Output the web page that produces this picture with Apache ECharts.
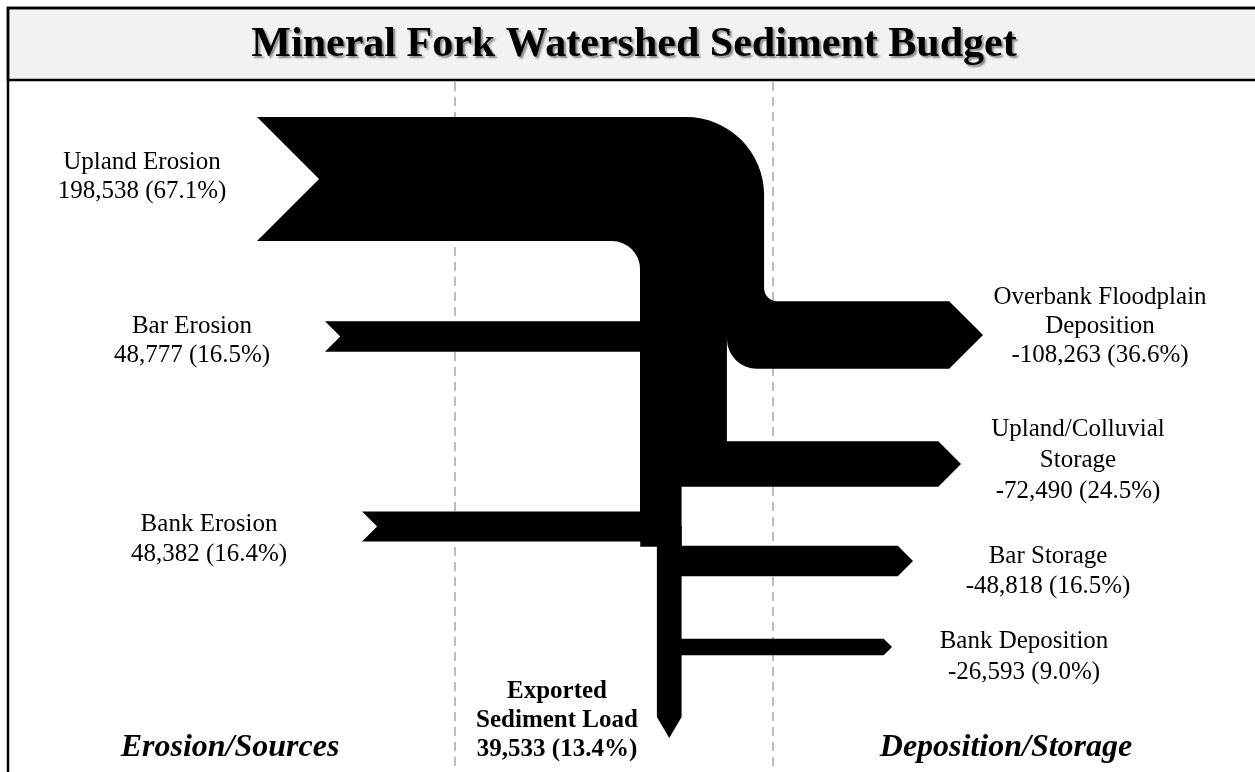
<!DOCTYPE html>
<html>
<head>
<meta charset="utf-8">
<script src="https://cdn.jsdelivr.net/npm/echarts@6/dist/echarts.min.js"></script>
<style>
html,body{margin:0;padding:0;background:#fff;}
#chart{width:1255px;height:772px;}
</style>
</head>
<body>
<div id="chart"></div>
<script>
// ---------------- data ----------------
const titleText = 'Mineral Fork Watershed Sediment Budget';
const sourceNames = ['Upland Erosion', 'Bar Erosion', 'Bank Erosion'];
const sourceValues = [198538, 48777, 48382];
const sourcePercents = [67.1, 16.5, 16.4];
const sinkNames = ['Overbank Floodplain\nDeposition', 'Upland/Colluvial\nStorage', 'Bar Storage', 'Bank Deposition'];
const sinkValues = [108263, 72490, 48818, 26593];
const sinkPercents = [36.6, 24.5, 16.5, 9.0];
const exportName = 'Exported\nSediment Load';
const exportValue = 39533;
const exportPercent = 13.4;
const sideLabels = ['Erosion/Sources', 'Deposition/Storage'];

// ---------------- layout (pixels) ----------------
const W = 1255, H = 772;
const TPP = 1600; // tonnes per pixel on the hidden axes
const FONT = "'Liberation Serif','Times New Roman',serif";
const LAY = {
  trunkX: 640,
  uplandTop: 117,
  outerR: 78, innerR: 28, topFillet: 13, bottomFillet: 30,
  tailX: [257, 325, 362],
  srcCY: [null, 336.5, 526.5],
  sinkCY: [335, 464, 561, 647],
  sinkTipX: [983, 961, 913, 892],
  exportTipY: 738,
  srcLabel: [[142, 162, 29], [192, 326, 29], [209, 524, 30]],
  sinkLabel: [[1100, 297, 29], [1078, 429, 31], [1048, 556, 30], [1024, 641, 31]],
  exportLabel: [557, 692, 29]
};

const fmt = v => v.toLocaleString('en-US');

function textEl(x, y, lh, text, font) {
  return {
    type: 'text', x: x, y: y - lh / 2, silent: true,
    style: { text: text, font: font, fill: '#000', align: 'center', verticalAlign: 'top', lineHeight: lh }
  };
}

// concave fillet: corner point plus an arc around (cx, cy) from angle a0 to a1
function filletPoints(corner, cx, cy, r, a0, a1) {
  const pts = [corner];
  const n = 12;
  for (let k = 0; k <= n; k++) {
    const a = (a0 + (a1 - a0) * k / n) * Math.PI / 180;
    pts.push([cx + r * Math.cos(a), cy + r * Math.sin(a)]);
  }
  return pts;
}

function renderItem(params, api) {
  const kind = api.value(0);
  const idx = api.value(1);
  const value = api.value(2);
  const th = v => api.size([0, v])[1];
  const t = th(value);
  const X0 = LAY.trunkX;
  const style = { fill: '#000' };
  const children = [];

  // trunk widths from the running balance of the flows
  const flowA = sourceValues[0];
  const flowB = sourceValues[0] + sourceValues[1] - sinkValues[0];
  const flowC = flowB - sinkValues[1];
  const flowD = flowC + sourceValues[2] - sinkValues[2];
  const flowE = flowD - sinkValues[3];
  const tA = th(flowA), tB = th(flowB), tC = th(flowC), tD = th(flowD), tE = th(flowE);
  const R = X0 + tC;

  if (kind === 0) {
    const font = '25px ' + FONT;
    if (idx === 0) {
      const top = LAY.uplandTop, bot = top + t, xl = LAY.tailX[0];
      const xr = X0 + tA, ro = LAY.outerR, ri = LAY.innerR;
      const yEnd = LAY.sinkCY[0] + 2;
      const d = 'M' + xl + ',' + top + ' L' + (xr - ro) + ',' + top +
        ' A' + ro + ',' + ro + ' 0 0 1 ' + xr + ',' + (top + ro) +
        ' L' + xr + ',' + yEnd + ' L' + X0 + ',' + yEnd +
        ' L' + X0 + ',' + (bot + ri) +
        ' A' + ri + ',' + ri + ' 0 0 0 ' + (X0 - ri) + ',' + bot +
        ' L' + xl + ',' + bot + ' L' + (xl + t / 2) + ',' + (top + t / 2) + ' Z';
      children.push({ type: 'path', shape: { pathData: d }, style: style });
    } else {
      const cy = LAY.srcCY[idx], top = cy - t / 2, bot = cy + t / 2, xl = LAY.tailX[idx];
      const xe = (idx === 1 ? X0 : R - tD) + 2;
      children.push({ type: 'polygon', shape: { points: [[xl, top], [xe, top], [xe, bot], [xl, bot], [xl + t / 2, cy]] }, style: style });
    }
    const lb = LAY.srcLabel[idx];
    children.push(textEl(lb[0], lb[1], lb[2], sourceNames[idx] + '\n' + fmt(value) + ' (' + sourcePercents[idx].toFixed(1) + '%)', font));
  } else if (kind === 1) {
    const font = '25px ' + FONT;
    const cy = LAY.sinkCY[idx], top = cy - t / 2, bot = cy + t / 2;
    const tip = LAY.sinkTipX[idx], body = tip - t / 2;
    if (idx === 0) {
      const xr = X0 + tA, xb = X0 + tB, rb = LAY.bottomFillet, f = LAY.topFillet;
      // trunk segment below the overbank exit
      children.push({ type: 'rect', shape: { x: X0, y: cy, width: tB, height: LAY.sinkCY[1] - cy + 2 }, style: style });
      const d = 'M' + (xr - 2) + ',' + top + ' L' + body + ',' + top + ' L' + tip + ',' + cy +
        ' L' + body + ',' + bot + ' L' + (xb + rb) + ',' + bot +
        ' A' + rb + ',' + rb + ' 0 0 1 ' + xb + ',' + (bot - rb) +
        ' L' + xb + ',' + top + ' Z';
      children.push({ type: 'path', shape: { pathData: d }, style: style });
      children.push({ type: 'polygon', shape: { points: filletPoints([xr - 1, top + 1], xr + f, top - f, f, 180, 90) }, style: style });
    } else {
      if (idx === 1) {
        children.push({ type: 'rect', shape: { x: R - tC, y: cy, width: tC, height: LAY.srcCY[2] - cy + 2 }, style: style });
      } else if (idx === 2) {
        children.push({ type: 'rect', shape: { x: R - tD, y: LAY.srcCY[2], width: tD, height: top - LAY.srcCY[2] + 1 }, style: style });
      }
      const xs = R - 2;
      children.push({ type: 'polygon', shape: { points: [[xs, top], [body, top], [tip, cy], [body, bot], [xs, bot]] }, style: style });
    }
    const lb = LAY.sinkLabel[idx];
    children.push(textEl(lb[0], lb[1], lb[2], sinkNames[idx] + '\n-' + fmt(value) + ' (' + sinkPercents[idx].toFixed(1) + '%)', font));
  } else {
    const y0 = LAY.srcCY[2], tipY = LAY.exportTipY, tipLen = t * 0.85;
    children.push({ type: 'polygon', shape: { points: [[R - t, y0], [R, y0], [R, tipY - tipLen], [R - t / 2, tipY], [R - t, tipY - tipLen]] }, style: style });
    const lb = LAY.exportLabel;
    children.push(textEl(lb[0], lb[1], lb[2], exportName + '\n' + fmt(value) + ' (' + exportPercent.toFixed(1) + '%)', 'bold 25px ' + FONT));
  }
  return { type: 'group', children: children };
}

const data = []
  .concat(sourceValues.map((v, i) => [0, i, v]))
  .concat(sinkValues.map((v, i) => [1, i, v]))
  .concat([[2, 0, exportValue]]);

const dashStyle = { stroke: '#a6a6a6', lineWidth: 1.5, lineDash: [9, 6] };

const option = {
  animation: false,
  backgroundColor: '#ffffff',
  grid: { left: 0, right: 0, top: 0, bottom: 0, containLabel: false, show: false },
  xAxis: { type: 'value', min: 0, max: W * TPP, show: false },
  yAxis: { type: 'value', min: 0, max: H * TPP, inverse: true, show: false },
  graphic: [
    { type: 'line', z: 0, silent: true, shape: { x1: 455, y1: 82, x2: 455, y2: H }, style: dashStyle },
    { type: 'line', z: 0, silent: true, shape: { x1: 773, y1: 82, x2: 773, y2: H }, style: dashStyle },
    { type: 'rect', z: 0, silent: true, shape: { x: 8, y: 8, width: W + 20, height: 72 }, style: { fill: '#f2f2f2', stroke: '#000', lineWidth: 2.5 } },
    { type: 'rect', z: 0, silent: true, shape: { x: 8, y: 8, width: W + 20, height: H + 20 }, style: { fill: null, stroke: '#000', lineWidth: 2.5 } },
    { type: 'text', z: 1, silent: true, x: 634, y: 45,
      style: { text: titleText, font: 'bold 42px ' + FONT, fill: '#000', align: 'center', verticalAlign: 'middle',
        textShadowColor: 'rgba(0,0,0,0.45)', textShadowBlur: 2, textShadowOffsetX: 2, textShadowOffsetY: 2 } },
    { type: 'text', z: 1, silent: true, x: 230, y: 748,
      style: { text: sideLabels[0], font: 'italic bold 32px ' + FONT, fill: '#000', align: 'center', verticalAlign: 'middle' } },
    { type: 'text', z: 1, silent: true, x: 1006, y: 748,
      style: { text: sideLabels[1], font: 'italic bold 32px ' + FONT, fill: '#000', align: 'center', verticalAlign: 'middle' } }
  ],
  series: [{
    type: 'custom',
    coordinateSystem: 'cartesian2d',
    renderItem: renderItem,
    data: data,
    clip: false,
    silent: true,
    z: 5
  }]
};

const chart = echarts.init(document.getElementById('chart'), null, { renderer: 'canvas' });
chart.setOption(option);
</script>
</body>
</html>
